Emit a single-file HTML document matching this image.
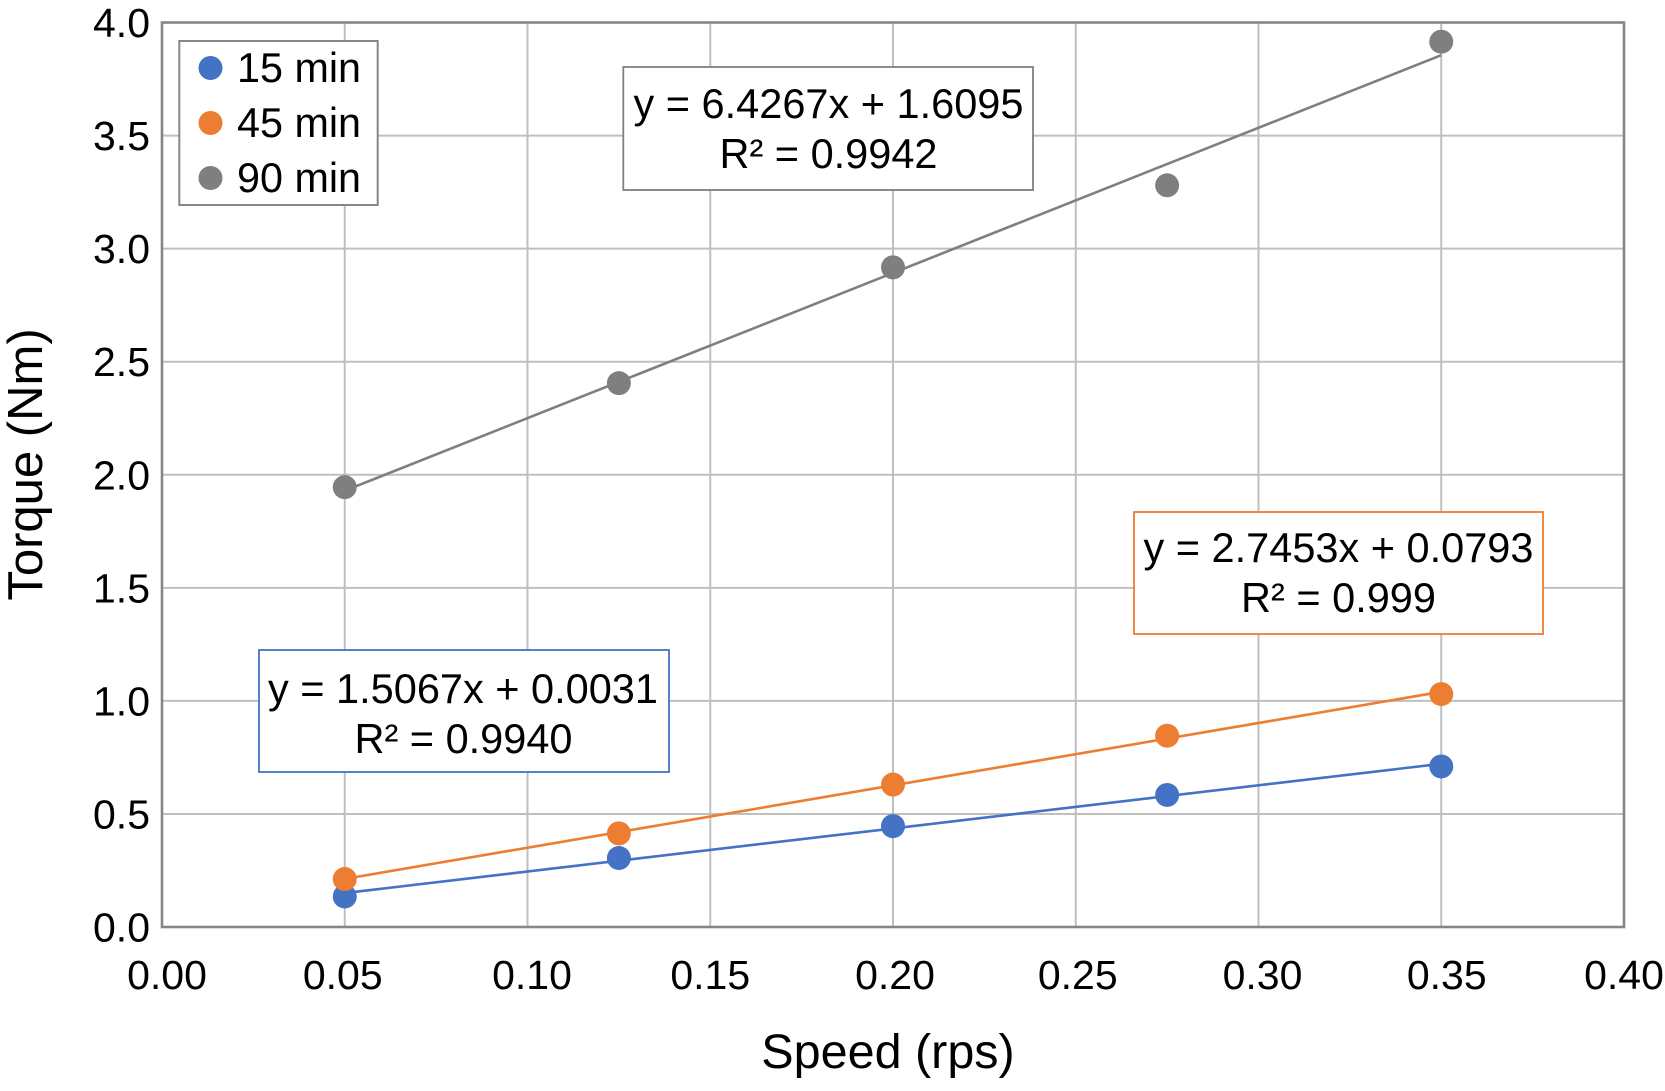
<!DOCTYPE html>
<html lang="en">
<head>
<meta charset="utf-8">
<title>Torque vs Speed</title>
<style>
  html, body { margin: 0; padding: 0; background: #fff; }
  svg { display: block; font-family: "Liberation Sans", Arial, sans-serif; fill: #000; }
</style>
</head>
<body>
<svg id="chart" xmlns="http://www.w3.org/2000/svg" width="1665" height="1091" viewBox="0 0 1665 1091">
  <rect x="0" y="0" width="1665" height="1091" fill="#fff"/>
  <g id="grid"></g>
  <rect x="162" y="22.5" width="1462" height="904.5" fill="none" stroke="#868686" stroke-width="2.6"/>
  <g id="xticks" font-size="41" text-anchor="middle"></g>
  <g id="yticks" font-size="41" text-anchor="end"></g>
  <text x="888" y="1068" font-size="48.5" text-anchor="middle">Speed (rps)</text>
  <text transform="translate(42 464.5) rotate(-90)" font-size="49" text-anchor="middle">Torque (Nm)</text>
  <g id="series"></g>

  <g>
    <rect x="179.3" y="41" width="198.4" height="164" fill="#fff" stroke="#868686" stroke-width="2"/>
    <g>
      <circle cx="210.5" cy="68" r="12" fill="#4472C4"/>
      <text x="361" y="82" font-size="41.3" text-anchor="end">15 min</text>
    </g>
    <g>
      <circle cx="210.5" cy="123" r="12" fill="#ED7D31"/>
      <text x="361" y="137" font-size="41.3" text-anchor="end">45 min</text>
    </g>
    <g>
      <circle cx="210.5" cy="178" r="12" fill="#7F7F7F"/>
      <text x="361" y="192" font-size="41.3" text-anchor="end">90 min</text>
    </g>
  </g>

  <g>
    <rect x="623.3" y="67" width="409.7" height="123" fill="#fff" stroke="#7F7F7F" stroke-width="1.8"/>
    <text x="828.5" y="118" font-size="41.5" text-anchor="middle">y = 6.4267x + 1.6095</text>
    <text x="828.5" y="168" font-size="41.5" text-anchor="middle">R² = 0.9942</text>
  </g>
  <g>
    <rect x="1134" y="512" width="409" height="122" fill="#fff" stroke="#ED7D31" stroke-width="1.8"/>
    <text x="1338.5" y="562" font-size="41.5" text-anchor="middle">y = 2.7453x + 0.0793</text>
    <text x="1338.5" y="612" font-size="41.5" text-anchor="middle">R² = 0.999</text>
  </g>
  <g>
    <rect x="259" y="650" width="410" height="122" fill="#fff" stroke="#4472C4" stroke-width="1.8"/>
    <text x="463" y="703" font-size="41.5" text-anchor="middle">y = 1.5067x + 0.0031</text>
    <text x="463.5" y="753" font-size="41.5" text-anchor="middle">R² = 0.9940</text>
  </g>
</svg>
<script>
const xTickLabels = ["0.00", "0.05", "0.10", "0.15", "0.20", "0.25", "0.30", "0.35", "0.40"];
const yTickLabels = ["0.0", "0.5", "1.0", "1.5", "2.0", "2.5", "3.0", "3.5", "4.0"];
const speeds = [0.05, 0.125, 0.2, 0.275, 0.35];
const torque15 = [0.135, 0.305, 0.446, 0.584, 0.71];
const torque45 = [0.212, 0.414, 0.63, 0.846, 1.03];
const torque90 = [1.945, 2.405, 2.917, 3.28, 3.915];

const NS = 'http://www.w3.org/2000/svg';
const xScale = function (v) { return 162 + (v / 0.4) * 1462; };
const yScale = function (v) { return 927 - (v / 4) * 904.5; };
/* small hand-placement offsets of the x tick labels seen in the source figure, in px */
const xLabelNudge = [5, -2, 4.5, 0, 2, 2, 4, 5.5, 0];

function make(tag, attrs, parent) {
  const el = document.createElementNS(NS, tag);
  Object.keys(attrs).forEach(function (k) { el.setAttribute(k, attrs[k]); });
  parent.appendChild(el);
  return el;
}

const grid = document.getElementById('grid');
const xticks = document.getElementById('xticks');
const yticks = document.getElementById('yticks');
const seriesLayer = document.getElementById('series');

xTickLabels.forEach(function (label, i) {
  const v = parseFloat(label);
  if (i > 0 && i < xTickLabels.length - 1) {
    const line = make('line', { x1: xScale(v), x2: xScale(v), y1: yScale(4), y2: yScale(0), stroke: '#BFBFBF', 'stroke-width': 2 }, grid);
    
    
  }
  const t = make('text', { x: xScale(v) + xLabelNudge[i], y: 989 }, xticks);
  t.textContent = label;
  
  
});

yTickLabels.forEach(function (label, i) {
  const v = parseFloat(label);
  if (i > 0 && i < yTickLabels.length - 1) {
    const line = make('line', { x1: xScale(0), x2: xScale(0.4), y1: yScale(v), y2: yScale(v), stroke: '#BFBFBF', 'stroke-width': 2 }, grid);
    
    
  }
  const t = make('text', { x: 150, y: yScale(v) + 14.5 }, yticks);
  t.textContent = label;
  
  
});

function leastSquares(xs, ys) {
  const n = xs.length;
  const mx = xs.reduce(function (a, b) { return a + b; }, 0) / n;
  const my = ys.reduce(function (a, b) { return a + b; }, 0) / n;
  let num = 0, den = 0;
  xs.forEach(function (x, i) { num += (x - mx) * (ys[i] - my); den += (x - mx) * (x - mx); });
  const slope = num / den;
  return { slope: slope, intercept: my - slope * mx };
}

function drawSeries(values, color, lineName, pointName) {
  const fit = leastSquares(speeds, values);
  const x0 = speeds[0];
  const x1 = speeds[speeds.length - 1];
  const line = make('line', {
    x1: xScale(x0), y1: yScale(fit.slope * x0 + fit.intercept),
    x2: xScale(x1), y2: yScale(fit.slope * x1 + fit.intercept),
    stroke: color, 'stroke-width': 2.6
  }, seriesLayer);
  
  
  values.forEach(function (v, i) {
    const c = make('circle', { cx: xScale(speeds[i]), cy: yScale(v), r: 12, fill: color }, seriesLayer);
    
    
  });
}

drawSeries(torque15, '#4472C4', 'trendline-15-min', 'point-15-min');
drawSeries(torque45, '#ED7D31', 'trendline-45-min', 'point-45-min');
drawSeries(torque90, '#7F7F7F', 'trendline-90-min', 'point-90-min');
</script>
</body>
</html>
